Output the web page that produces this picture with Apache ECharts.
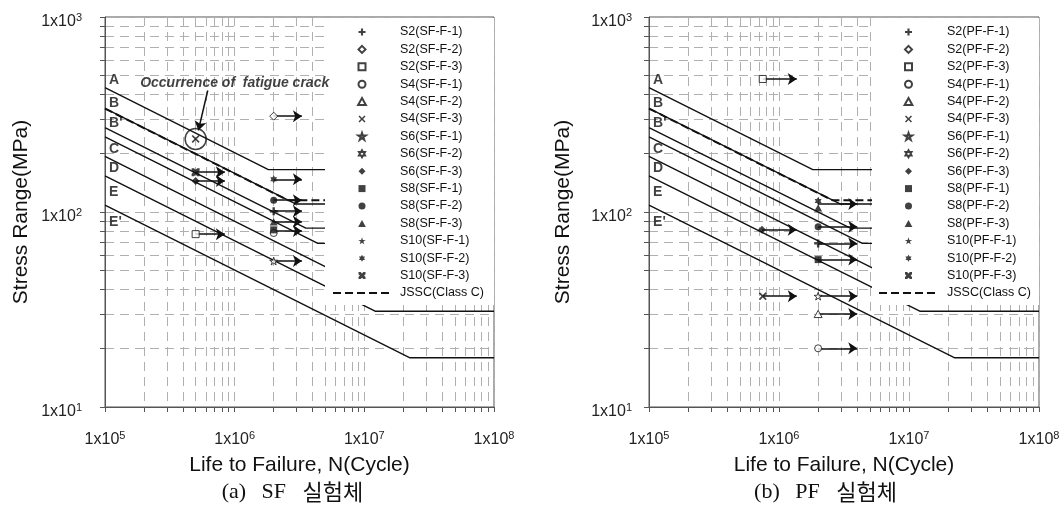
<!DOCTYPE html>
<html><head><meta charset="utf-8">
<script src="https://cdn.jsdelivr.net/npm/echarts@6/dist/echarts.min.js"></script>
<style>html,body{margin:0;padding:0;background:#fff}#c{width:1064px;height:511px}</style>
</head><body><div id="c"></div>
<script>
// ---------- axis ticks ----------
const xMajorTicks = [1e5, 1e6, 1e7, 1e8];
const yMajorTicks = [10, 100, 1000];
const xGridTicks = [1e5,2e5,3e5,4e5,5e5,6e5,7e5,8e5,9e5,1e6,2e6,3e6,4e6,5e6,6e6,7e6,8e6,9e6,1e7,2e7,3e7,4e7,5e7,6e7,7e7,8e7,9e7,1e8];
const yGridTicks = [10,20,30,40,50,60,70,80,90,100,200,300,400,500,600,700,800,900,1000];

// ---------- design S-N curves (N, stress range MPa) ----------
const snNames = ['A', 'B', "B'", 'C', 'D', 'E', "E'"];
const snA  = [[1e5, 434], [1.82e6, 165], [1e8, 165]];
const snB  = [[1e5, 340], [2.95e6, 110], [1e8, 110]];
const snB2 = [[1e5, 271], [3.54e6, 82.7], [1e8, 82.7]];
const snC  = [[1e5, 243], [4.38e6, 69], [1e8, 69]];
const snD  = [[1e5, 193], [6.4e6, 48.3], [1e8, 48.3]];
const snE  = [[1e5, 153], [1.21e7, 31], [1e8, 31]];
const snE2 = [[1e5, 108.6], [2.23e7, 17.9], [1e8, 17.9]];
const snLabelS = [475, 362, 286, 210, 168, 127, 89];
const jsscC = [[1e5, 339], [2.57e6, 115], [1e8, 115]];

// ---------- SF specimens ----------
const sfNames = ['S2(SF-F-1)','S2(SF-F-2)','S2(SF-F-3)','S4(SF-F-1)','S4(SF-F-2)','S4(SF-F-3)','S6(SF-F-1)','S6(SF-F-2)','S6(SF-F-3)','S8(SF-F-1)','S8(SF-F-2)','S8(SF-F-3)','S10(SF-F-1)','S10(SF-F-2)','S10(SF-F-3)'];
const sfPoints = [[[2e6,101]], [[2e6,310]], [[5e5,77]], [[2e6,78]], [], [[5e5,237]], [[2e6,56]], [], [[5e5,144]], [[2e6,81]], [[2e6,115]], [[2e6,89]], [], [[2e6,147]], [[5e5,160]]];
// runout arrows: [N start, N end, stress]
const sfArrows = [[2e6,3.3e6,310],[5e5,8.4e5,160],[5e5,8.4e5,144],[2e6,3.3e6,147],[2e6,3.3e6,115],[2e6,3.3e6,101],[2e6,3.3e6,89],[2e6,3.3e6,80],[5e5,8.4e5,77],[2e6,3.3e6,56]];
const sfCrack = [[5e5, 237]];
const crackText = 'Occurrence of  fatigue crack';
const crackTextAt = [[1.0e6, 459]];
const crackPointer = [[6.2e5, 420], [5.25e5, 262]];

// ---------- PF specimens ----------
const pfNames = ['S2(PF-F-1)','S2(PF-F-2)','S2(PF-F-3)','S4(PF-F-1)','S4(PF-F-2)','S4(PF-F-3)','S6(PF-F-1)','S6(PF-F-2)','S6(PF-F-3)','S8(PF-F-1)','S8(PF-F-2)','S8(PF-F-3)','S10(PF-F-1)','S10(PF-F-2)','S10(PF-F-3)'];
const pfPoints = [[[2e6,69]], [], [[7.5e5,481]], [[2e6,20]], [[2e6,30]], [[7.5e5,37]], [[2e6,37]], [], [[7.4e5,81]], [[2e6,57]], [[2e6,84]], [[2e6,105]], [], [[2e6,114]], []];
const pfArrows = [[7.5e5,1.37e6,481],[2e6,4e6,110],[7.4e5,1.37e6,81],[2e6,4e6,84],[2e6,4e6,69],[2e6,4e6,57],[7.5e5,1.37e6,37],[2e6,4e6,37],[2e6,4e6,30],[2e6,4e6,20]];

const captionTokens = [['(a)', 'SF', '실험체'], ['(b)', 'PF', '실험체']];
const jsscName = 'JSSC(Class C)';

// ---------- styling ----------
const SYM = {
  plus: 'path://M3.5,0H6.5V3.5H10V6.5H6.5V10H3.5V6.5H0V3.5H3.5Z',
  x: 'path://M1.5,0L5,3.5L8.5,0L10,1.5L6.5,5L10,8.5L8.5,10L5,6.5L1.5,10L0,8.5L3.5,5L0,1.5Z',
  star: 'path://M50,0L61.2,34.5H97.6L68.2,55.9L79.4,90.5L50,69.1L20.6,90.5L31.8,55.9L2.4,34.5H38.8Z',
  hexagram: 'path://M50,0L64.4,25H93.3L78.9,50L93.3,75H64.4L50,100L35.6,75H6.7L21.1,50L6.7,25H35.6Z',
  xbox: 'path://M0,0H3L5,2L7,0H10V3L8,5L10,7V10H7L5,8L3,10H0V7L2,5L0,3Z',
  diamond: 'path://M5,0L10,5L5,10L0,5Z',
  rect: 'path://M0,0H10V10H0Z',
  circle: 'path://M5,0A5,5,0,1,1,5,10A5,5,0,1,1,5,0Z',
  triangle: 'path://M5,0L10,9L0,9Z'
};
const markerSymbols = ['plus','diamond','rect','circle','triangle','x','star','hexagram','diamond','rect','circle','triangle','star','hexagram','xbox'];
const markerFilled = [true,false,false,false,false,true,false,false,true,true,true,true,true,true,true];
const INK = '#111';
const FONT = 'Liberation Sans, Arial, sans-serif';

const grids = [
  {left:105, right:570, top:17, bottom:104},
  {left:649, right:25, top:17, bottom:104}
];
const legendPos = [{left:325, itemWidth:58, pad:[6.5,10,4.5,7]}, {left:872, itemWidth:59, pad:[6.5,8,4.5,6]}];
const yLabelMargin = [23, 17];
const yNameGap = [73, 75];
const captionX = [293, 826];

const expFmt = v => '1x10{sup|' + Math.round(Math.log10(v)) + '}';
const richSup = {sup:{fontSize:11, lineHeight:11, verticalAlign:'top', color:'#222', fontFamily:FONT}};

const xAxes = [], yAxes = [], series = [], legends = [], graphics = [];
const panels = [
  {names: sfNames, points: sfPoints, arrows: sfArrows},
  {names: pfNames, points: pfPoints, arrows: pfArrows}
];
const snSets = [snA, snB, snB2, snC, snD, snE, snE2];

panels.forEach((p, g) => {
  xAxes.push({
    type:'log', logBase:10, gridIndex:g, min:1e5, max:1e8,
    axisLine:{lineStyle:{color:'#555', width:1}},
    axisTick:{customValues:xGridTicks, length:5, lineStyle:{color:'#555'}},
    axisLabel:{customValues:xMajorTicks, formatter:expFmt, margin:23, fontSize:16, lineHeight:20, color:'#222', fontFamily:FONT, rich:richSup, showMinLabel:true, showMaxLabel:true},
    splitLine:{show:true, lineStyle:{color:'#b0b0b0', width:1, type:[9,6]}},
    name:'Life to Failure, N(Cycle)', nameLocation:'middle', nameGap:48,
    nameTextStyle:{fontSize:21, color:INK, fontFamily:FONT}
  });
  yAxes.push({
    type:'log', logBase:10, gridIndex:g, min:10, max:1000,
    axisLine:{lineStyle:{color:'#555', width:1}},
    axisTick:{customValues:yGridTicks, length:5, lineStyle:{color:'#555'}},
    axisLabel:{customValues:yMajorTicks, formatter:expFmt, margin:yLabelMargin[g], fontSize:16, lineHeight:20, padding:[10,0,0,0], color:'#222', fontFamily:FONT, rich:richSup, showMinLabel:true, showMaxLabel:true},
    splitLine:{show:true, lineStyle:{color:'#b0b0b0', width:1, type:[9,6]}},
    name:'Stress Range(MPa)', nameLocation:'middle', nameGap:yNameGap[g], nameRotate:90,
    nameTextStyle:{fontSize:21, color:INK, fontFamily:FONT}
  });

  // design curves
  snSets.forEach((d, i) => {
    series.push({type:'line', name:'sn'+g+'-'+i, xAxisIndex:g, yAxisIndex:g, data:d,
      symbol:'none', showSymbol:false, silent:true, z:2,
      lineStyle:{color:INK, width:1.4}});
  });
  series.push({type:'scatter', name:'snlabels'+g, xAxisIndex:g, yAxisIndex:g, silent:true, z:2,
    symbolSize:0.1, itemStyle:{color:'transparent'},
    data: snNames.map((n, i) => [1e5, snLabelS[i], n]),
    label:{show:true, position:'right', distance:4, formatter:q => q.value[2], fontWeight:'bold', fontSize:14, color:INK, fontFamily:FONT}});
  series.push({type:'line', name:jsscName, xAxisIndex:g, yAxisIndex:g, data:jsscC,
    symbol:'none', showSymbol:false, silent:true, z:3,
    lineStyle:{color:INK, width:2, type:[8,4]}, itemStyle:{color:INK}});

  // runout arrows
  series.push({type:'lines', name:'arrows'+g, coordinateSystem:'cartesian2d', xAxisIndex:g, yAxisIndex:g, silent:true, z:3,
    symbol:['none','arrow'], symbolSize:[1, 9],
    lineStyle:{color:INK, width:1.5, opacity:1, curveness:0},
    data: p.arrows.map(a => ({coords:[[a[0], a[2]], [a[1], a[2]]]}))});

  // specimens
  p.names.forEach((n, i) => {
    const s = markerSymbols[i];
    const filled = markerFilled[i];
    series.push({type:'scatter', name:n, xAxisIndex:g, yAxisIndex:g, z:4,
      symbol: SYM[s], symbolSize: (s === 'circle' || s === 'rect') ? 7 : 8, symbolKeepAspect:true,
      itemStyle: filled ? {color:INK, borderWidth:0} : {color:'#fff', borderColor:INK, borderWidth:1},
      data: p.points[i]});
  });

  legends.push({
    data: p.names.concat([{name:jsscName, itemStyle:{color:'rgba(0,0,0,0)', borderColor:'rgba(0,0,0,0)', borderWidth:0}}]),
    orient:'vertical', left:legendPos[g].left, top:18,
    itemWidth:legendPos[g].itemWidth, itemHeight:7, itemGap:2.4, padding:legendPos[g].pad,
    backgroundColor:'#fff', selectedMode:false, z:5,
    textStyle:{fontSize:12.5, lineHeight:15, color:INK, fontFamily:FONT, padding:[0,0,0,4]}
  });

  const t = captionTokens[g];
  graphics.push({type:'text', x:captionX[g], y:492, z:10,
    style:{text:'{g|' + t[0] + '} {g|' + t[1] + '} {k|' + t[2] + '}',
      fontSize:22, fontFamily:'Liberation Serif, serif', fill:INK, align:'center', verticalAlign:'middle',
      rich:{
        g:{fontSize:22, fontFamily:'Liberation Serif, serif', fill:INK, padding:[0,5]},
        k:{fontSize:22, fontFamily:'"Noto Sans CJK KR", sans-serif', fill:INK, padding:[0,6]}
      }}});
});

// crack annotation (SF panel)
series.push({type:'scatter', name:'crackCircle', xAxisIndex:0, yAxisIndex:0, z:4, silent:true,
  symbol:'circle', symbolSize:21, itemStyle:{color:'transparent', borderColor:INK, borderWidth:1.5}, data:sfCrack});
series.push({type:'lines', name:'crackPointer', coordinateSystem:'cartesian2d', xAxisIndex:0, yAxisIndex:0, z:4, silent:true,
  symbol:['none','arrow'], symbolSize:[1, 9], lineStyle:{color:INK, width:1.5, opacity:1},
  data:[{coords:crackPointer}]});
series.push({type:'scatter', name:'crackText', xAxisIndex:0, yAxisIndex:0, z:8, silent:true,
  symbolSize:0.1, itemStyle:{color:'transparent'}, data:crackTextAt,
  label:{show:true, position:'inside', formatter:crackText, fontSize:14, fontWeight:'bold', fontStyle:'italic', color:INK, fontFamily:FONT}});

const chart = echarts.init(document.getElementById('c'), null, {renderer:'canvas'});
chart.setOption({
  animation:false,
  backgroundColor:'#fff',
  textStyle:{fontFamily:FONT},
  grid: grids.map(g => Object.assign({show:true, borderColor:'#555', borderWidth:1, backgroundColor:'transparent'}, g)),
  xAxis:xAxes, yAxis:yAxes, legend:legends, series:series, graphic:graphics,
  tooltip:{show:false}
});
</script></body></html>
